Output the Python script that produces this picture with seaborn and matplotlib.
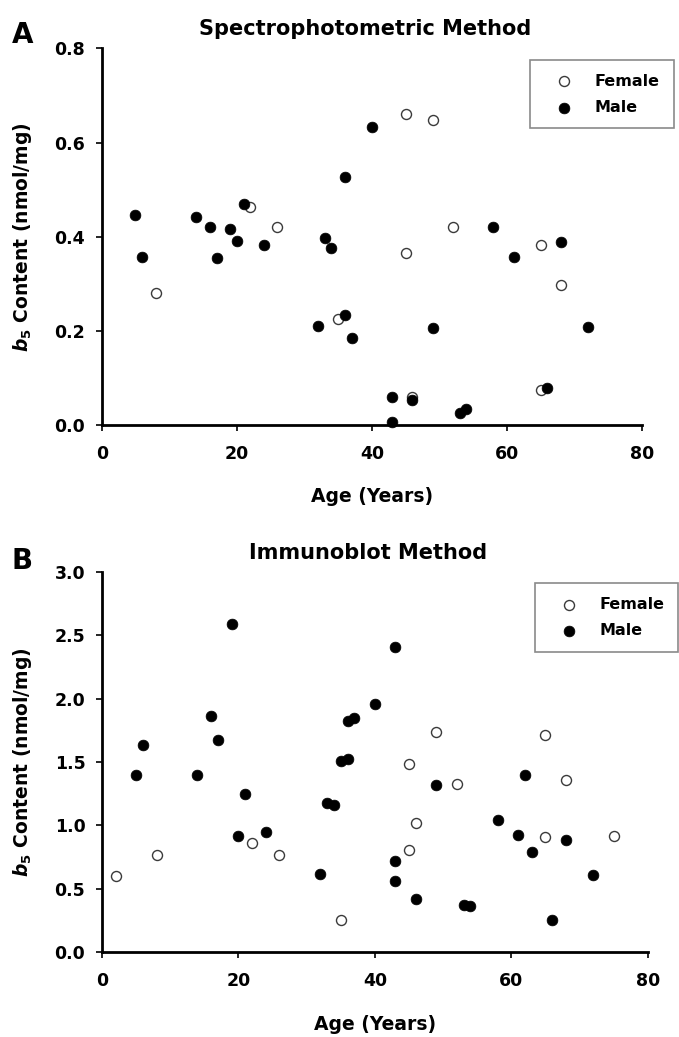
import numpy as np
import pandas as pd
import matplotlib
matplotlib.use("Agg")
import matplotlib.pyplot as plt
import seaborn as sns

# ---------------- data ----------------
# Panel A: Spectrophotometric method
a_female_age = [8, 22, 26, 35, 45, 45, 49, 52, 46, 65, 65, 68]
a_female_b5 = [0.280, 0.463, 0.422, 0.225, 0.660, 0.366, 0.648, 0.420, 0.060, 0.383, 0.075, 0.298]
a_male_age = [5, 6, 14, 16, 17, 19, 20, 21, 24, 32, 33, 34, 36, 36, 37, 40, 43, 43,
              46, 49, 53, 54, 58, 61, 66, 68, 72]
a_male_b5 = [0.447, 0.357, 0.443, 0.422, 0.355, 0.417, 0.392, 0.470, 0.383, 0.212, 0.397,
             0.376, 0.528, 0.235, 0.186, 0.634, 0.060, 0.007, 0.053, 0.206, 0.027, 0.035,
             0.422, 0.357, 0.080, 0.390, 0.209]

# Panel B: Immunoblot method
b_female_age = [2, 8, 22, 26, 35, 45, 45, 46, 49, 52, 65, 65, 68, 75]
b_female_b5 = [0.598, 0.765, 0.864, 0.765, 0.253, 1.484, 0.808, 1.020, 1.740, 1.330,
               1.716, 0.908, 1.357, 0.913]
b_male_age = [5, 6, 14, 16, 17, 19, 20, 21, 24, 32, 33, 34, 35, 36, 36, 37, 40, 43, 43, 43,
              46, 49, 53, 54, 58, 61, 62, 63, 66, 68, 72]
b_male_b5 = [1.400, 1.637, 1.395, 1.861, 1.675, 2.585, 0.916, 1.250, 0.948, 0.614, 1.180,
             1.163, 1.505, 1.527, 1.823, 1.847, 1.955, 2.407, 0.719, 0.565, 0.423, 1.317,
             0.369, 0.364, 1.042, 0.927, 1.400, 0.790, 0.253, 0.888, 0.609]

titles = ["Spectrophotometric Method", "Immunoblot Method"]
panel_letters = ["A", "B"]
x_ticks = [0, 20, 40, 60, 80]
a_y_ticks = [0.0, 0.2, 0.4, 0.6, 0.8]
b_y_ticks = [0.0, 0.5, 1.0, 1.5, 2.0, 2.5, 3.0]
sex_labels = ["Female", "Male"]

# ---------------- style ----------------
sns.set_style("white")
plt.rcParams["font.family"] = ["DejaVu Sans"]
plt.rcParams["font.weight"] = "bold"
plt.rcParams["text.color"] = "black"
plt.rcParams["axes.labelcolor"] = "black"
plt.rcParams["axes.titlecolor"] = "black"
plt.rcParams["xtick.color"] = "black"
plt.rcParams["ytick.color"] = "black"
plt.rcParams["mathtext.fontset"] = "custom"
plt.rcParams["mathtext.it"] = "DejaVu Sans:italic:bold"
plt.rcParams["mathtext.bf"] = "DejaVu Sans:bold"
plt.rcParams["mathtext.rm"] = "DejaVu Sans:bold"

fig = plt.figure(figsize=(6.79, 10.37), dpi=100)
ax1 = fig.add_axes([0.1498, 0.5897, 0.7957, 0.3637])
ax2 = fig.add_axes([0.1502, 0.0817, 0.8037, 0.3670])

panels = [
    (ax1, a_female_age, a_female_b5, a_male_age, a_male_b5, a_y_ticks, (0.781, 0.9421)),
    (ax2, b_female_age, b_female_b5, b_male_age, b_male_b5, b_y_ticks, (0.788, 0.4375)),
]

for i, (ax, fa, fv, ma, mv, yt, leg_anchor) in enumerate(panels):
    df_f = pd.DataFrame({"age": fa, "b5": fv})
    df_m = pd.DataFrame({"age": ma, "b5": mv})
    sns.scatterplot(data=df_f, x="age", y="b5", ax=ax, s=52, color="white",
                    edgecolor="#3a3a3a", linewidth=1.0, label=sex_labels[0],
                    clip_on=False, zorder=3)
    sns.scatterplot(data=df_m, x="age", y="b5", ax=ax, s=60, color="black",
                    edgecolor="black", linewidth=0.5, label=sex_labels[1],
                    clip_on=False, zorder=4)
    ax.set_xlim(0, 80)
    ax.set_ylim(yt[0], yt[-1])
    ax.set_xticks(x_ticks)
    ax.set_xticklabels([str(t) for t in x_ticks])
    ax.set_yticks(yt)
    ax.set_yticklabels([f"{t:.1f}" for t in yt])
    for side in ["top", "right"]:
        ax.spines[side].set_visible(False)
    for side in ["left", "bottom"]:
        ax.spines[side].set_color("black")
        ax.spines[side].set_linewidth(2.0)
    ax.tick_params(axis="both", direction="out", length=4.5, width=1.2,
                   colors="black", labelsize=12.5, left=True, bottom=True)
    ax.tick_params(axis="x", pad=9.5)
    ax.tick_params(axis="y", pad=7.5)
    for lab in ax.get_xticklabels() + ax.get_yticklabels():
        lab.set_fontweight("bold")

    ax.set_title(titles[i], fontsize=15, fontweight="bold", pad=9.5, x=0.488,
                 color="black")
    ax.set_xlabel("Age (Years)", fontsize=13.5, fontweight="bold", color="black")
    ax.set_ylabel(r"$\mathit{b}_{\mathbf{5}}$ Content (nmol/mg)", fontsize=13.5,
                  fontweight="bold", color="black")
    ax.xaxis.set_label_coords(0.5, -0.164)
    ax.yaxis.set_label_coords(-0.125, 0.5)

    handles, labels = ax.get_legend_handles_labels()
    leg = ax.legend(handles, labels, loc="upper left", bbox_to_anchor=leg_anchor,
                    bbox_transform=fig.transFigure, borderaxespad=0,
                    frameon=True, fancybox=False, framealpha=1,
                    edgecolor="#8a8a8a", borderpad=0.85, handlelength=2.5,
                    handletextpad=0.7, labelspacing=0.7,
                    prop={"weight": "bold", "size": 11.5})
    leg.get_frame().set_linewidth(1.2)
    for t in leg.get_texts():
        t.set_color("black")

fig.text(12 / 679, 1 - 43 / 1037, panel_letters[0], fontsize=20, fontweight="bold",
         ha="left", va="baseline", color="black")
fig.text(11 / 679, 1 - 569 / 1037, panel_letters[1], fontsize=20, fontweight="bold",
         ha="left", va="baseline", color="black")

fig.savefig("out.png", dpi=100)
